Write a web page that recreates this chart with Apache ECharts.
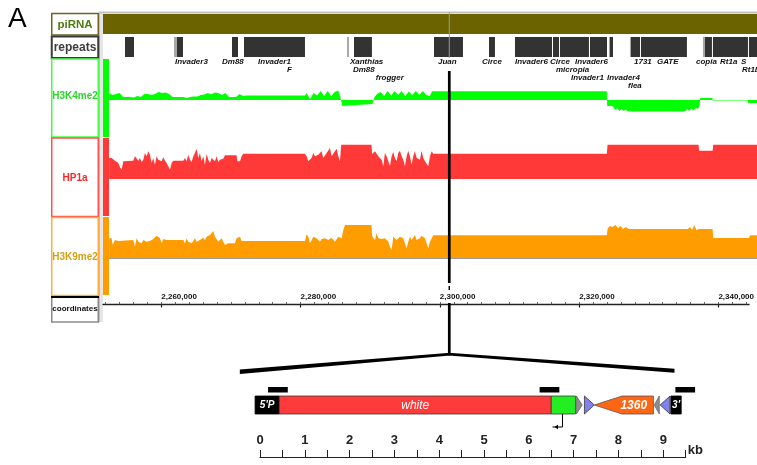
<!DOCTYPE html>
<html>
<head>
<meta charset="utf-8">
<script src="https://cdn.jsdelivr.net/npm/echarts@6/dist/echarts.min.js"></script>
<style>
  html, body { margin: 0; padding: 0; background: #fff; }
  #chart { width: 757px; height: 465px; }
</style>
</head>
<body>
<div id="chart"></div>
<script>
// ---------- genome browser window (positions in kb) ----------
const REGION_KB = [2251.63, 2344.4];
const COORD_MAJOR = [2260, 2280, 2300, 2320, 2340];
const COORD_MINOR = [2252, 2254, 2256, 2258, 2260, 2262, 2264, 2266, 2268, 2270, 2272, 2274,
  2276, 2278, 2280, 2282, 2284, 2286, 2288, 2290, 2292, 2294, 2296, 2298, 2300, 2302, 2304,
  2306, 2308, 2310, 2312, 2314, 2316, 2318, 2320, 2322, 2324, 2326, 2328, 2330, 2332, 2334,
  2336, 2338, 2340, 2342, 2344];

const TRACK_NAMES = ['piRNA', 'repeats', 'H3K4me2', 'HP1a', 'H3K9me2', 'coordinates'];

// piRNA cluster coverage
const PIRNA_START = [2251.63];
const PIRNA_END = [2344.4];

// repeat annotations: 1 = full-length hit, 0 = fragment
const REPEAT_START = [2254.75, 2261.70, 2262.13, 2269.93, 2271.63, 2286.24, 2287.23, 2298.58,
  2306.38, 2310.07, 2315.46, 2316.45, 2320.71, 2323.40, 2323.54, 2326.38, 2326.52, 2327.94,
  2336.73, 2337.02, 2338.15, 2343.26];
const REPEAT_END = [2256.03, 2262.13, 2262.98, 2270.78, 2280.28, 2286.52, 2289.78, 2302.69,
  2307.23, 2315.32, 2316.31, 2320.56, 2323.12, 2323.54, 2323.97, 2326.52, 2327.80, 2334.46,
  2337.02, 2338.01, 2343.12, 2344.40];
const REPEAT_KIND = [1, 0, 1, 1, 1, 0, 1, 1, 1, 1, 1, 1, 1, 0, 1, 0, 1, 1, 0, 1, 1, 1];

const REPEAT_LABELS = ['Invader3', 'Dm88', 'Invader1', 'F', 'Xanthias', 'Dm88', 'frogger', 'Juan',
  'Circe', 'Invader6', 'Circe', 'Invader6', 'micropia', 'Invader1', 'Invader4', 'flea', '1731',
  'GATE', 'copia', 'Rt1a', 'S', 'Rt1b'];
const REPEAT_LABEL_KB = [2261.84, 2268.51, 2273.62, 2277.73, 2286.66, 2287.09, 2290.33, 2299.15,
  2305.39, 2310.07, 2315.03, 2318.58, 2315.88, 2318.01, 2323.12, 2326.10, 2326.95, 2330.21,
  2335.74, 2339.15, 2342.13, 2342.27];
const REPEAT_LABEL_LANE = [0, 0, 0, 1, 0, 1, 2, 0, 0, 0, 0, 0, 1, 2, 2, 3, 0, 0, 0, 0, 0, 1];

// saturated first bin shown at the left edge of each ChIP track
const EDGE_BIN = [2251.63, 2252.48];

// ChIP signal tracks: [position kb, signal]
const H3K4ME2 = [
  [2252.5, 0.7], [2253, 0.5], [2253.5, 0.6], [2254, 0.7], [2254.5, 0.3], [2255, 0.3], [2255.5, 0.3],
  [2256, 0.25], [2256.5, 0.4], [2257, 0.3], [2257.5, 0.6], [2258, 0.6], [2258.5, 0.5], [2259, 0.6],
  [2259.5, 0.8], [2260, 0.7], [2260.5, 0.75], [2261, 0.6], [2261.5, 0.3], [2262, 0.3], [2262.5, 0.3],
  [2263, 0.3], [2263.5, 0.2], [2264, 0.3], [2264.5, 0.35], [2265, 0.35], [2265.5, 0.5], [2266, 0.55],
  [2266.5, 0.7], [2267, 0.55], [2267.5, 0.75], [2268, 0.7], [2268.5, 0.5], [2269, 0.7], [2269.5, 0.3],
  [2270, 0.3], [2270.5, 0.3], [2271, 0.6], [2271.5, 0.4], [2272, 0.45], [2280.3, 0.45],
  [2280.5, 0.7], [2281, 0.1], [2281.5, 0.7], [2282, 0.45], [2282.5, 0.9], [2283, 0.4], [2283.5, 0.9],
  [2284, 0.4], [2284.5, 0.8], [2285, 0.95], [2285.3, 0.3], [2285.45, -0.2], [2285.6, -0.6],
  [2285.75, -0.4], [2289.85, -0.4], [2289.95, -0.6], [2290.05, -0.2], [2290.15, 0.3],
  [2290.5, 0.6], [2291, 0.8], [2291.5, 0.4], [2292, 0.9], [2292.5, 0.45], [2293, 0.9], [2293.5, 0.5],
  [2294, 0.9], [2294.5, 0.4], [2295, 0.85], [2295.5, 0.5], [2296, 0.9], [2296.5, 0.5], [2297, 0.9],
  [2297.5, 0.5], [2298, 0.4], [2298.3, 0.88], [2323.1, 0.88], [2323.15, -0.6], [2323.9, -0.6],
  [2324.0, -0.8], [2324.3, -1.0], [2324.6, -0.8], [2324.9, -1.1], [2325.2, -0.9], [2325.5, -1.1],
  [2325.8, -0.95], [2326.1, -1.15], [2334.2, -1.15], [2334.5, -0.9], [2334.8, -1.1], [2335.1, -0.85],
  [2335.4, -1.05], [2335.7, -0.8], [2336.0, -0.9], [2336.25, -0.6], [2336.35, 0.2], [2338.1, 0.2],
  [2338.12, -0.06], [2343.1, -0.06], [2343.15, -0.3], [2344.4, -0.3]
];

const HP1A = [
  [2252.5, 2.1], [2252.85, 2.1], [2253.09, 2.1], [2253.33, 1.83], [2253.56, 1.77], [2253.8, 1.6],
  [2254.04, 1.17], [2254.27, 0.93], [2254.51, 1.77], [2254.75, 1.83], [2255.93, 1.83], [2256.16, 2.27],
  [2256.4, 2.1], [2256.64, 1.83], [2256.87, 2.1], [2257.11, 1.7], [2257.35, 1.93], [2257.58, 2.6],
  [2257.82, 2.27], [2258.06, 2.77], [2258.29, 2.43], [2258.53, 1.6], [2258.76, 2.1], [2259.0, 1.43],
  [2259.24, 2.27], [2259.47, 1.93], [2259.71, 2.1], [2259.95, 1.77], [2260.18, 2.17], [2260.42, 1.83],
  [2260.66, 1.6], [2260.89, 1.27], [2261.13, 0.93], [2261.37, 1.6], [2261.6, 1.83], [2263.02, 1.83],
  [2263.26, 2.1], [2263.49, 1.77], [2263.73, 2.43], [2263.97, 1.93], [2264.2, 1.7], [2264.44, 2.27],
  [2264.67, 2.6], [2264.91, 3.03], [2265.15, 2.1], [2265.38, 2.6], [2265.62, 1.77], [2265.86, 2.27],
  [2266.09, 1.43], [2266.33, 2.5], [2266.57, 1.93], [2266.8, 1.6], [2267.04, 2.1], [2267.28, 1.93],
  [2267.51, 1.77], [2267.75, 2.27], [2267.98, 1.7], [2268.22, 1.93], [2268.46, 1.77], [2268.69, 2.03],
  [2268.93, 2.37], [2270.58, 2.37], [2270.68, 1.77], [2271.06, 1.77], [2271.29, 2.27], [2271.53, 2.53],
  [2280.28, 2.53], [2280.51, 2.27], [2280.75, 1.77], [2280.99, 1.6], [2281.22, 2.1], [2281.46, 2.6],
  [2281.7, 2.27], [2281.93, 2.1], [2282.17, 2.43], [2282.4, 2.6], [2282.64, 2.77], [2282.88, 2.1],
  [2283.11, 2.27], [2283.35, 2.6], [2283.59, 2.43], [2283.82, 3.1], [2284.06, 2.27], [2284.3, 2.1],
  [2284.53, 2.77], [2284.77, 3.03], [2285.01, 2.27], [2285.24, 1.77], [2285.35, 1.9], [2285.42, 3.43],
  [2289.72, 3.43], [2289.8, 2.5], [2289.97, 2.6], [2290.21, 2.77], [2290.44, 2.93], [2290.68, 2.27],
  [2290.92, 2.43], [2291.15, 1.93], [2291.39, 1.27], [2291.62, 2.6], [2291.86, 2.27], [2292.1, 2.1],
  [2292.33, 1.27], [2292.57, 2.27], [2292.81, 2.7], [2293.04, 2.1], [2293.28, 1.77], [2293.52, 2.6],
  [2293.75, 2.83], [2293.99, 2.27], [2294.22, 1.93], [2294.46, 1.27], [2294.7, 2.27], [2294.93, 2.83],
  [2295.17, 2.27], [2295.41, 1.43], [2295.64, 2.27], [2295.88, 2.77], [2296.12, 2.1], [2296.35, 2.27],
  [2296.59, 1.93], [2296.82, 2.83], [2297.06, 2.1], [2297.3, 1.77], [2297.53, 1.6], [2297.77, 1.27],
  [2298.01, 2.27], [2298.25, 2.77], [2298.48, 2.53], [2323.1, 2.53], [2323.2, 3.43],
  [2336.1, 3.43], [2336.2, 2.83], [2338.1, 2.83], [2338.2, 3.43], [2344.4, 3.43]
];

const H3K9ME2 = [
  [2252.5, 1.97], [2252.85, 1.97], [2253.0, 1.3], [2253.33, 1.8], [2253.56, 1.9], [2253.8, 1.7],
  [2254.04, 1.8], [2255.93, 1.8], [2256.16, 1.13], [2256.4, 1.97], [2256.64, 1.63], [2256.87, 1.8],
  [2257.11, 1.47], [2257.35, 1.8], [2257.58, 1.9], [2257.82, 1.63], [2258.06, 1.47], [2258.29, 1.7],
  [2258.53, 1.63], [2258.76, 1.9], [2259.0, 2.03], [2259.24, 2.23], [2259.47, 2.3], [2259.71, 1.97],
  [2259.95, 1.47], [2260.18, 1.9], [2260.42, 1.97], [2260.66, 1.8], [2263.02, 1.8], [2263.26, 1.47],
  [2263.49, 1.97], [2263.73, 1.63], [2263.97, 1.8], [2264.2, 1.47], [2264.44, 1.7], [2264.67, 1.97],
  [2264.91, 1.63], [2265.15, 1.47], [2265.38, 1.8], [2265.62, 1.9], [2265.86, 2.03], [2266.09, 1.8],
  [2266.33, 2.13], [2266.57, 1.97], [2266.8, 2.3], [2267.04, 2.47], [2267.28, 2.7], [2267.51, 2.13],
  [2267.75, 2.3], [2267.98, 1.63], [2268.22, 1.8], [2268.46, 1.97], [2268.69, 1.63], [2268.93, 1.3],
  [2269.17, 1.13], [2269.4, 1.47], [2270.35, 1.47], [2270.58, 1.97], [2270.82, 2.13], [2271.06, 2.13],
  [2271.29, 1.7], [2280.28, 1.7], [2280.51, 2.37], [2280.75, 2.13], [2280.99, 1.47], [2281.22, 1.3],
  [2281.46, 2.13], [2281.7, 2.23], [2281.93, 1.97], [2282.17, 1.9], [2282.4, 1.63], [2282.64, 1.9],
  [2282.88, 1.8], [2283.11, 1.97], [2283.35, 2.13], [2283.59, 1.8], [2283.82, 1.63], [2284.06, 2.03],
  [2284.3, 1.9], [2284.53, 1.63], [2284.77, 1.8], [2285.01, 2.13], [2285.24, 2.23], [2285.48, 1.97],
  [2285.72, 2.8], [2285.95, 3.3], [2289.72, 3.3], [2289.8, 2.2], [2289.97, 2.13], [2290.21, 1.8],
  [2290.44, 2.47], [2290.68, 1.97], [2290.92, 1.8], [2291.15, 1.9], [2291.39, 1.8], [2291.62, 1.97],
  [2291.86, 2.03], [2292.1, 1.63], [2292.33, 1.13], [2292.57, 0.8], [2292.81, 2.13], [2293.04, 1.97],
  [2293.28, 1.8], [2293.52, 1.63], [2293.75, 2.13], [2293.99, 2.23], [2294.22, 1.97], [2294.46, 1.47],
  [2294.7, 0.97], [2294.93, 1.63], [2295.17, 2.13], [2295.41, 1.8], [2295.64, 1.97], [2295.88, 2.3],
  [2296.12, 1.8], [2296.35, 1.63], [2296.59, 1.97], [2296.82, 2.23], [2297.06, 2.37], [2297.3, 1.97],
  [2297.53, 1.47], [2297.77, 0.97], [2298.01, 1.63], [2298.48, 2.27], [2323.1, 2.27],
  [2323.2, 2.9], [2323.5, 3.2], [2323.9, 3.1], [2324.3, 3.3], [2324.7, 3.0], [2325, 3.2], [2325.4, 2.9],
  [2325.8, 3.1], [2326.2, 2.9], [2334.6, 2.9], [2334.9, 3.1], [2335.2, 2.8], [2335.5, 3.3],
  [2335.8, 2.8], [2336.0, 2.6], [2336.2, 2.9], [2338.1, 2.9], [2338.2, 2.0], [2343.3, 2.0],
  [2343.4, 2.27], [2344.4, 2.27]
];

// insertion site in the browser window, and the part of the construct it expands to
const INSERTION_KB = 2300.75;
const EXPANDED_SPAN_KB = [-0.45, 9.25];

// ---------- transgene construct (kb from the 5' end) ----------
const KB_TICKS = [0, 0.5, 1, 1.5, 2, 2.5, 3, 3.5, 4, 4.5, 5, 5.5, 6, 6.5, 7, 7.5, 8, 8.5, 9, 9.5];
const KB_LABELS = [0, 1, 2, 3, 4, 5, 6, 7, 8, 9];

const PART_NAMES = ["5'P", 'white', '', '', '', '1360', '', '', "3'"];
const PART_START = [-0.11, 0.43, 6.50, 7.06, 7.24, 7.46, 8.80, 8.93, 9.17];
const PART_END = [0.43, 6.50, 7.04, 7.19, 7.46, 8.78, 8.91, 9.15, 9.40];
const PART_KIND = ['end', 'gene', 'promoter', 'siteA', 'siteB', 'te', 'siteA', 'siteB', 'end'];
const PART_STRAND = [1, 1, 1, 1, 1, -1, -1, -1, 1];

const PROBE_START = [0.18, 6.24, 9.27];
const PROBE_END = [0.62, 6.68, 9.71];

const TSS_KB = [6.75];
const TSS_STRAND = [-1];

// ---------- drawing ----------
const FONT = '"Liberation Sans", Arial, Helvetica, sans-serif';
const BROWSER_LEFT = 103, BROWSER_WIDTH = 654;
const TRACK_LAYOUT = [
  { top: 14, height: 20 },   // piRNA
  { top: 37, height: 20 },   // repeats
  { top: 59, height: 78 },   // H3K4me2
  { top: 138, height: 78 },  // HP1a
  { top: 217, height: 78 },  // H3K9me2
  { top: 304, height: 0.5 }  // coordinates
];
const SIGNAL_RANGE = [-3.7, 4.1];
const BAND_H = 18;   // height of the construct bar

const PART_STYLE = {
  end:      { fill: '#000000', stroke: '#000000', text: '#ffffff', font: 'italic bold 10px ' + FONT },
  gene:     { fill: '#ff3a3a', stroke: '#3a3a3a', text: '#ffffff', font: 'italic 12px ' + FONT },
  promoter: { fill: '#22ee22', stroke: '#3a3a3a' },
  siteA:    { fill: '#8e8e8e', stroke: '#666666' },
  siteB:    { fill: '#8282ee', stroke: '#333333' },
  te:       { fill: '#ff6614', stroke: '#555555', text: '#ffffff', font: 'italic bold 12px ' + FONT }
};

const grids = TRACK_LAYOUT.map(l => ({ left: BROWSER_LEFT, width: BROWSER_WIDTH, top: l.top, height: l.height, containLabel: false }));
grids.push({ left: 260, width: 425.7, top: 396, height: 61, containLabel: false });

const hiddenX = i => ({ type: 'value', gridIndex: i, min: REGION_KB[0], max: REGION_KB[1], show: false });
const xAxes = [hiddenX(0), hiddenX(1), hiddenX(2), hiddenX(3),
  {
    type: 'value', gridIndex: 4, min: REGION_KB[0], max: REGION_KB[1],
    axisLine: { show: true, onZero: true, lineStyle: { color: '#9a9a9a', width: 1 } },
    axisTick: { show: false }, axisLabel: { show: false }, splitLine: { show: false }
  },
  {
    type: 'value', gridIndex: 5, position: 'top', min: REGION_KB[0], max: REGION_KB[1],
    axisLine: { show: true, lineStyle: { color: '#222', width: 1.3 } },
    axisTick: { show: true, inside: true, length: 3, customValues: COORD_MAJOR, lineStyle: { color: '#222', width: 1.2 } },
    axisLabel: {
      show: true, customValues: COORD_MAJOR, margin: 3, align: 'left',
      color: '#111', fontFamily: FONT, fontWeight: 'bold', fontSize: 8,
      formatter: v => Math.round(v * 1000).toLocaleString('en-US')
    },
    splitLine: { show: false }
  },
  {
    type: 'value', gridIndex: 5, position: 'bottom', min: REGION_KB[0], max: REGION_KB[1],
    axisLine: { show: false },
    axisTick: { show: true, inside: true, length: 2.5, customValues: COORD_MINOR, lineStyle: { color: '#444', width: 0.8 } },
    axisLabel: { show: false }, splitLine: { show: false }
  },
  {
    type: 'value', gridIndex: 6, position: 'bottom', min: 0, max: 9.5,
    name: 'kb', nameLocation: 'end', nameGap: 2,
    nameTextStyle: { fontFamily: FONT, fontWeight: 'bold', fontSize: 13, color: '#222', verticalAlign: 'bottom', padding: [0, 0, 0, 0] },
    axisLine: { show: true, onZero: false, lineStyle: { color: '#222', width: 1.2 } },
    axisTick: { show: true, inside: true, length: 7, customValues: KB_TICKS, lineStyle: { color: '#222', width: 1 } },
    axisLabel: {
      show: true, inside: true, margin: 10, customValues: KB_LABELS,
      fontFamily: FONT, fontWeight: 'bold', fontSize: 13, color: '#222'
    },
    splitLine: { show: false }
  }
];

const yAxes = [
  { type: 'value', gridIndex: 0, min: 0, max: 1, show: false },
  { type: 'value', gridIndex: 1, min: 0, max: 1, show: false },
  { type: 'value', gridIndex: 2, min: SIGNAL_RANGE[0], max: SIGNAL_RANGE[1], show: false },
  { type: 'value', gridIndex: 3, min: SIGNAL_RANGE[0], max: SIGNAL_RANGE[1], show: false },
  { type: 'value', gridIndex: 4, min: SIGNAL_RANGE[0], max: SIGNAL_RANGE[1], show: false },
  { type: 'value', gridIndex: 5, min: 0, max: 1, show: false },
  { type: 'value', gridIndex: 6, min: 0, max: 1, show: false }
];

function spanRenderer(colorFor) {
  return function (params, api) {
    const s = api.coord([api.value(0), 1]);
    const e = api.coord([api.value(1), 0]);
    return { type: 'rect', shape: { x: s[0], y: s[1], width: e[0] - s[0], height: e[1] - s[1] },
      style: { fill: colorFor(params.dataIndex) } };
  };
}

function signalSeries(idx, data, color) {
  return {
    type: 'line', xAxisIndex: idx, yAxisIndex: idx, data: data,
    symbol: 'none', silent: true, z: 2,
    lineStyle: { width: 0, opacity: 0 },
    areaStyle: { color: color, opacity: 1, origin: 'auto' },
    markArea: { silent: true, itemStyle: { color: color, opacity: 1 }, label: { show: false },
      data: [[{ xAxis: EDGE_BIN[0] }, { xAxis: EDGE_BIN[1] }]] }
  };
}

const series = [
  {
    type: 'custom', xAxisIndex: 0, yAxisIndex: 0, silent: true,
    data: PIRNA_START.map((s, i) => [s, PIRNA_END[i]]),
    renderItem: spanRenderer(() => '#6b6300')
  },
  {
    type: 'custom', xAxisIndex: 1, yAxisIndex: 1, silent: true,
    data: REPEAT_START.map((s, i) => [s, REPEAT_END[i]]),
    renderItem: spanRenderer(i => REPEAT_KIND[i] ? '#333333' : '#a8a8a8')
  },
  {
    type: 'custom', xAxisIndex: 1, yAxisIndex: 1, silent: true, clip: false,
    data: REPEAT_LABEL_KB.map((p, i) => [p, REPEAT_LABEL_LANE[i]]),
    renderItem: function (params, api) {
      const p = api.coord([api.value(0), 0]);
      return {
        type: 'text', x: p[0], y: p[1] + 4.5 + api.value(1) * 8,
        style: { text: REPEAT_LABELS[params.dataIndex], fill: '#111', font: 'italic bold 8px ' + FONT,
          align: 'left', verticalAlign: 'middle', textAlign: 'left', textVerticalAlign: 'middle' }
      };
    }
  },
  signalSeries(2, H3K4ME2, '#00ff00'),
  signalSeries(3, HP1A, '#ff3838'),
  signalSeries(4, H3K9ME2, '#ff9c00'),
  {
    type: 'custom', xAxisIndex: 7, yAxisIndex: 6, silent: true, clip: false,
    data: PART_START.map((s, i) => [s, PART_END[i]]),
    renderItem: function (params, api) {
      const i = params.dataIndex;
      const top = params.coordSys.y, bot = top + BAND_H, mid = (top + bot) / 2;
      const x0 = api.coord([api.value(0), 0])[0];
      const x1 = api.coord([api.value(1), 0])[0];
      const st = PART_STYLE[PART_KIND[i]];
      const dir = PART_STRAND[i];
      const children = [];
      const shapeStyle = { fill: st.fill, stroke: st.stroke, lineWidth: 0.8 };
      let textX = (x0 + x1) / 2;
      if (PART_KIND[i] === 'siteA' || PART_KIND[i] === 'siteB') {
        const pts = dir > 0 ? [[x0, top], [x1, mid], [x0, bot]] : [[x1, top], [x0, mid], [x1, bot]];
        children.push({ type: 'polygon', shape: { points: pts }, style: shapeStyle });
      } else if (PART_KIND[i] === 'te') {
        const head = (x1 - x0) * 0.47;
        const pts = dir > 0
          ? [[x1, mid], [x1 - head, top], [x0, top], [x0, bot], [x1 - head, bot]]
          : [[x0, mid], [x0 + head, top], [x1, top], [x1, bot], [x0 + head, bot]];
        children.push({ type: 'polygon', shape: { points: pts }, style: shapeStyle });
        textX = dir > 0 ? (x0 + x1 - head) / 2 : (x0 + head + x1) / 2 - 4;
      } else {
        children.push({ type: 'rect', shape: { x: x0, y: top, width: x1 - x0, height: bot - top }, style: shapeStyle });
      }
      if (PART_NAMES[i]) {
        children.push({ type: 'text', x: textX, y: mid + 0.5,
          style: { text: PART_NAMES[i], fill: st.text, font: st.font,
            align: 'center', verticalAlign: 'middle', textAlign: 'center', textVerticalAlign: 'middle' } });
      }
      return { type: 'group', children: children };
    }
  },
  {
    type: 'custom', xAxisIndex: 7, yAxisIndex: 6, silent: true, clip: false,
    data: PROBE_START.map((s, i) => [s, PROBE_END[i]]),
    renderItem: function (params, api) {
      const top = params.coordSys.y;
      const x0 = api.coord([api.value(0), 0])[0];
      const x1 = api.coord([api.value(1), 0])[0];
      return { type: 'rect', shape: { x: x0, y: top - 9, width: x1 - x0, height: 5.5 }, style: { fill: '#000' } };
    }
  },
  {
    type: 'custom', xAxisIndex: 7, yAxisIndex: 6, silent: true, clip: false,
    data: TSS_KB.map((p, i) => [p, TSS_STRAND[i]]),
    renderItem: function (params, api) {
      const bot = params.coordSys.y + BAND_H;
      const x = api.coord([api.value(0), 0])[0];
      const d = api.value(1);
      const yb = bot + 13, xe = x + d * 8;
      return { type: 'group', children: [
        { type: 'polyline', shape: { points: [[x, bot], [x, yb], [xe + d * 2, yb]] }, style: { stroke: '#000', lineWidth: 1, fill: null } },
        { type: 'polygon', shape: { points: [[xe, yb], [xe - d * 3.5, yb - 2.3], [xe - d * 3.5, yb + 2.3]] }, style: { fill: '#000' } }
      ] };
    }
  }
];

const chart = echarts.init(document.getElementById('chart'), null, { renderer: 'canvas' });
chart.setOption({
  animation: false,
  grid: grids,
  xAxis: xAxes,
  yAxis: yAxes,
  series: series
});

// ---------- panel decoration: label column, frame, insertion guide ----------
const BOX_LAYOUT = [
  { y: 13.5, h: 21.5, stroke: '#6e6428', width: 1.5, color: '#4f7a12', size: 11.5, ty: 24.5 },
  { y: 36.5, h: 21.5, stroke: '#3c3c3c', width: 2, color: '#3c3c3c', size: 12, ty: 47.5 },
  { y: 59, h: 78, stroke: '#44ff44', width: 1.5, color: '#2ed42e', size: 10, ty: 96 },
  { y: 138, h: 78.5, stroke: '#ff5252', width: 1.5, color: '#ff2626', size: 10, ty: 178 },
  { y: 217.5, h: 78, stroke: '#ffad40', width: 1.5, color: '#d4a015', size: 10, ty: 257 },
  { y: 297, h: 25, stroke: '#8a8a8a', width: 1.5, color: '#111111', size: 8, ty: 309 }
];

const decor = [
  { type: 'text', x: 8, y: 19, style: { text: 'A', fill: '#000', font: '28px ' + FONT, align: 'left', verticalAlign: 'middle', textAlign: 'left', textVerticalAlign: 'middle' } },
  { type: 'rect', shape: { x: 99, y: 12, width: 4, height: 310 }, style: { fill: '#e6e6e6' } },
  { type: 'line', shape: { x1: 99.5, y1: 12, x2: 99.5, y2: 322 }, style: { stroke: '#bdbdbd', lineWidth: 1 } },
  { type: 'line', shape: { x1: 99, y1: 12.5, x2: 757, y2: 12.5 }, style: { stroke: '#c2c2c2', lineWidth: 2 } }
];
BOX_LAYOUT.forEach((b, i) => {
  decor.push({ type: 'rect', shape: { x: 51.75, y: b.y, width: 46.5, height: b.h },
    style: { fill: '#fff', stroke: b.stroke, lineWidth: b.width } });
  decor.push({ type: 'text', x: 75, y: b.ty,
    style: { text: TRACK_NAMES[i], fill: b.color, font: 'bold ' + b.size + 'px ' + FONT,
      align: 'center', verticalAlign: 'middle', textAlign: 'center', textVerticalAlign: 'middle' } });
});
decor.push({ type: 'line', shape: { x1: 51, y1: 297, x2: 99, y2: 297 }, style: { stroke: '#000', lineWidth: 2 } });

const xi = chart.convertToPixel({ xAxisIndex: 2 }, INSERTION_KB);
const xl = chart.convertToPixel({ xAxisIndex: 7 }, EXPANDED_SPAN_KB[0]);
const xr = chart.convertToPixel({ xAxisIndex: 7 }, EXPANDED_SPAN_KB[1]);
const guide = [
  { type: 'line', z: 100, shape: { x1: xi, y1: 12, x2: xi, y2: 58 }, style: { stroke: '#9a9a9a', lineWidth: 1 } },
  { type: 'line', z: 100, shape: { x1: xi, y1: 71, x2: xi, y2: 283 }, style: { stroke: '#000', lineWidth: 2.7 } },
  { type: 'line', z: 100, shape: { x1: xi, y1: 286, x2: xi, y2: 290 }, style: { stroke: '#000', lineWidth: 1.5 } },
  { type: 'line', z: 100, shape: { x1: xi, y1: 303, x2: xi, y2: 354 }, style: { stroke: '#000', lineWidth: 2.7 } },
  { type: 'polygon', z: 100, shape: { points: [[xi + 1, 352.8], [xl, 369.5], [xl, 374], [xi + 1, 355.5]] }, style: { fill: '#000' } },
  { type: 'polygon', z: 100, shape: { points: [[xi - 1, 352.8], [xr, 368.8], [xr, 372.8], [xi - 1, 355.5]] }, style: { fill: '#000' } }
];

chart.setOption({ graphic: { elements: decor.concat(guide) } });
</script>
</body>
</html>
